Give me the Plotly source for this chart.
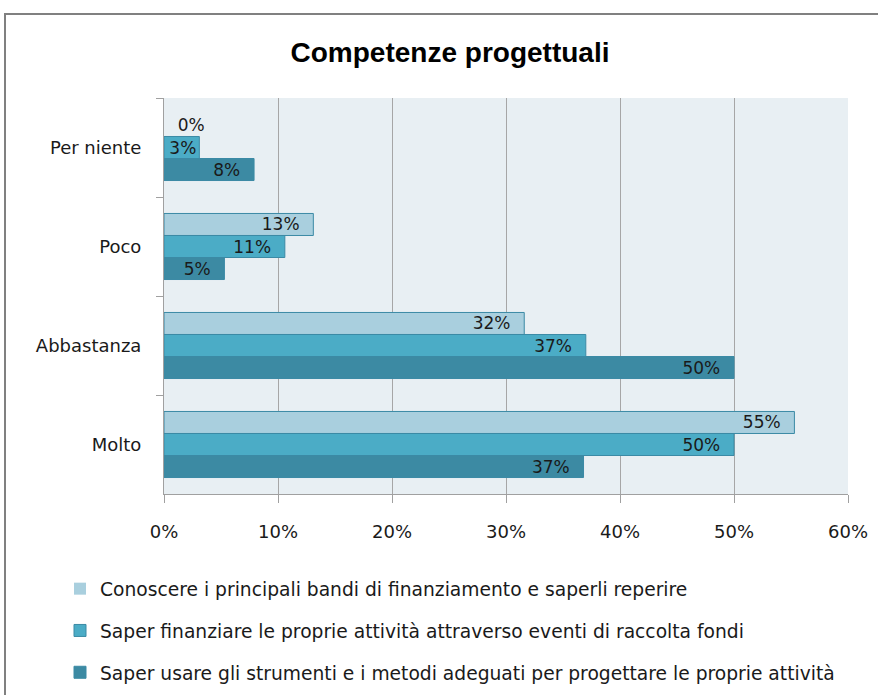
import plotly.graph_objects as go

categories = ["Per niente", "Poco", "Abbastanza", "Molto"]
series_names = [
    "Conoscere i principali bandi di finanziamento e saperli reperire",
    "Saper finanziare le proprie attività attraverso eventi di raccolta fondi",
    "Saper usare gli strumenti e i metodi adeguati per progettare le proprie attività",
]
conoscere = [0.0, 13.1, 31.6, 55.3]
finanziare = [3.1, 10.6, 37.0, 50.0]
usare = [7.9, 5.3, 50.0, 36.8]
x_ticks = [0, 10, 20, 30, 40, 50, 60]
x_tick_labels = ["0%", "10%", "20%", "30%", "40%", "50%", "60%"]

colors = ["#A9CFDE", "#4BACC6", "#3C8AA3"]
FONT = "DejaVu Sans, sans-serif"
TFONT = "Liberation Sans, Arial, sans-serif"
NB = "\u00a0"


def label(v):
    t = f"{round(v):d}%"
    if v == 0:
        return NB * 2 + t
    if v < 5:
        return t
    return t + NB * 2


fig = go.Figure()
for i, (name, vals) in enumerate(zip(series_names, [conoscere, finanziare, usare])):
    fig.add_trace(go.Bar(
        y=categories, x=vals, name=name, orientation="h",
        marker=dict(color=colors[i],
                    line=dict(color="#3B8AA5", width=[0 if v == 0 else 1 for v in vals])),
        text=[label(v) for v in vals],
        textposition=["outside" if v == 0 else "inside" for v in vals],
        insidetextanchor="end",
        constraintext="none",
        textfont=dict(family=FONT, size=17, color="#1a1a1a"),
        cliponaxis=False,
        legendgroup=f"g{i}",
        hoverinfo="skip",
    ))

fig.update_layout(
    width=878, height=695,
    margin=dict(l=164, r=30, t=98, b=201, autoexpand=False),
    paper_bgcolor="white", plot_bgcolor="#E8EFF3",
    barmode="group", bargap=0.333, bargroupgap=0,
    title=dict(text="<b>Competenze progettuali</b>", x=450 / 878, xanchor="center",
               y=1 - 52 / 695, yanchor="middle",
               font=dict(family=TFONT, size=28, color="black")),
    font=dict(family=FONT, size=18, color="#1a1a1a"),
    showlegend=True,
    legend=dict(xref="container", yref="container",
                x=60 / 878, xanchor="left", y=1 - 570 / 695, yanchor="top",
                traceorder="grouped", tracegroupgap=14.5,
                font=dict(family=FONT, size=18.7, color="#1a1a1a"),
                bgcolor="rgba(0,0,0,0)"),
    xaxis=dict(range=[0, 60], tickvals=x_ticks, ticktext=x_tick_labels,
               showgrid=True, gridcolor="#A6A6A6", gridwidth=1,
               showline=True, linecolor="#A0A0A0", linewidth=1,
               ticks="outside", ticklen=8, tickcolor="#A0A0A0",
               zeroline=False, fixedrange=True, ticklabelstandoff=13,
               tickfont=dict(family=FONT, size=18, color="#1a1a1a")),
    yaxis=dict(categoryorder="array", categoryarray=categories, autorange="reversed",
               tickson="boundaries", ticks="outside", ticklen=7, tickcolor="#A0A0A0",
               showline=True, linecolor="#A0A0A0", linewidth=1,
               showgrid=False, fixedrange=True, ticklabelstandoff=18,
               tickfont=dict(family=FONT, size=18, color="#1a1a1a")),
    shapes=[dict(type="rect", xref="paper", yref="paper",
                 x0=(5 - 164) / 684, x1=1.2, y0=-0.8, y1=(494 - 14) / 396,
                 line=dict(color="#808080", width=2), fillcolor="rgba(0,0,0,0)", layer="below")],
)

fig.write_html("out.html", config={"displayModeBar": False},
               post_script="document.body.style.margin='0';")
